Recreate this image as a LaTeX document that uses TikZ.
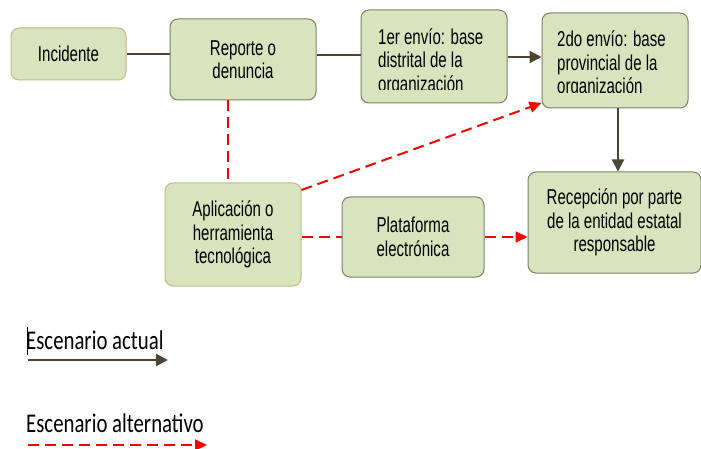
\documentclass[tikz,border=0pt]{standalone}
\usepackage{fontspec}
\setmainfont{Liberation Sans}[FakeStretch=0.70]
\newfontfamily\legendfont{Carlito}[FakeStretch=0.77]
\usetikzlibrary{arrows.meta}
\definecolor{boxfill}{HTML}{D7E4BD}
\definecolor{boxedge}{HTML}{7F7F6A}
\definecolor{goldedge}{HTML}{C3B983}
\definecolor{olivec}{HTML}{4A4631}
\definecolor{altred}{HTML}{FF0000}
\tikzset{
  box/.style={rounded corners=8pt, fill=boxfill, draw=boxedge, line width=1pt,
    font=\fontsize{21.5}{23.5}\selectfont, align=center, inner sep=0pt},
  boxtext/.style={font=\fontsize{21.5}{23.5}\selectfont, align=left, inner sep=0pt, anchor=west},
  actual/.style={draw=olivec, line width=2.2pt},
  actarrow/.style={actual, -{Triangle[length=12pt,width=12pt]}},
  alt/.style={draw=altred, line width=2pt, dash pattern=on 11pt off 6pt},
  altarrow/.style={alt, -{Triangle[length=12pt,width=11pt]}},
  legend/.style={font=\legendfont\fontsize{27}{30}\selectfont, inner sep=0pt, anchor=west}
}
\begin{document}
\begin{tikzpicture}[x=1pt,y=-1pt]
\useasboundingbox (0,0) rectangle (701,449);
\fill[white] (0,0) rectangle (701,449);
% boxes
\node[box, draw=goldedge, minimum width=115pt, minimum height=52pt] (inc) at (68.5,54) {Incidente};
\node[box, minimum width=146pt, minimum height=81pt] (rep) at (243,59.5) {Reporte o\\denuncia};
\node[box, minimum width=146pt, minimum height=93pt] (e1) at (434,56.5) {};
\node[box, minimum width=146pt, minimum height=95pt] (e2) at (615,60.5) {};
\node[box, minimum width=173pt, minimum height=101pt] (rec) at (614.5,222.5) {Recepción por parte\\de la entidad estatal\\responsable};
\node[box, draw=goldedge, minimum width=136pt, minimum height=103pt] (app) at (233,234.5) {Aplicación o\\herramienta\\tecnológica};
\node[box, minimum width=142pt, minimum height=80pt] (pla) at (413,237) {Plataforma\\electrónica};
% clipped texts
\begin{scope}
\clip (361,10) rectangle (507,90);
\node[boxtext] (e1t) at (378,62) {1er envío: base\\distrital de la\\organización};
\end{scope}
\begin{scope}
\clip (542,13) rectangle (688,93);
\node[boxtext] (e2t) at (557,64.5) {2do envío: base\\provincial de la\\organización};
\end{scope}
% connectors
\draw[actual] (inc.east) -- (inc.east -| rep.west);
\draw[actual] (rep.east |- 0,55) -- (e1.west |- 0,55);
\draw[actarrow] (e1.east |- 0,57) -- (e2.west |- 0,57);
\draw[actarrow] (e2.south -| 618,0) -- (rec.north -| 618,0);
\draw[alt] (rep.south -| 228,0) -- (app.north -| 228,0);
\draw[altarrow] (app.33) -- (e2.210);
\draw[alt] (app.east |- 0,237) -- (pla.west |- 0,237);
\draw[altarrow] (pla.east |- 0,237) -- (rec.west |- 0,237);
% legend
\node[legend] (l1) at (26,340) {Escenario actual};
\draw[black, line width=0.8pt] (27,327) -- (27,355);
\coordinate (a1s) at (28,360);
\coordinate (a1e) at (168,360);
\draw[actarrow] (a1s) -- (a1e);
\node[legend] (l2) at (26,423) {Escenario alternativo};
\coordinate (a2s) at (28,445);
\coordinate (a2e) at (207,445);
\draw[altarrow] (a2s) -- (a2e);
\end{tikzpicture}
\end{document}
